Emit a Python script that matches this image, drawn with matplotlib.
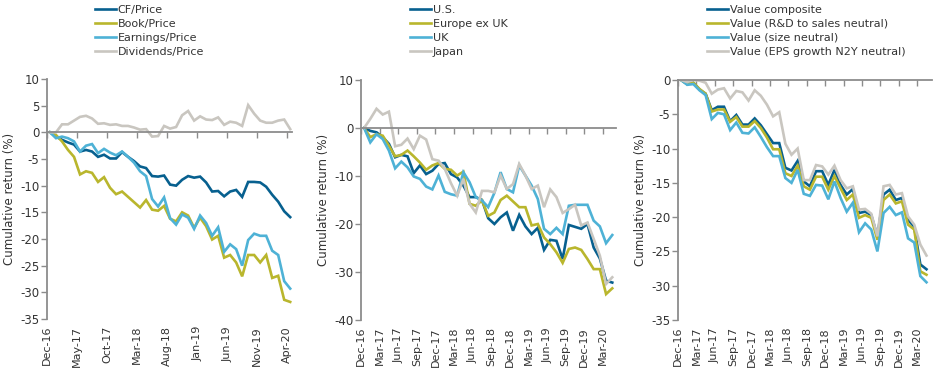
import numpy as np
import matplotlib
matplotlib.use("Agg")
import matplotlib.pyplot as plt

plt.rcParams['font.family'] = ['DejaVu Sans']
plt.rcParams['axes.unicode_minus'] = False

## Data (monthly, Dec-16 .. Apr-20)
cf_price = [0, -0.8, -1.4, -1.9, -2.3, -3.6, -3.3, -3.6, -4.6, -4.2, -4.9, -4.9, -3.7, -4.6,
            -5.4, -6.4, -6.7, -8.2, -8.3, -8.1, -9.8, -10.0, -8.9, -8.2, -8.5, -8.3, -9.4,
            -11.1, -11.0, -12.0, -11.1, -10.8, -12.1, -9.3, -9.3, -9.4, -10.2, -11.7, -13.0,
            -14.8, -15.9]
book_price = [0, -0.5, -1.7, -3.3, -4.6, -7.9, -7.3, -7.6, -9.3, -8.4, -10.4, -11.6, -11.1,
              -12.1, -13.1, -14.1, -12.7, -14.5, -14.7, -13.8, -16.2, -16.7, -15.0, -15.6,
              -17.9, -16.0, -17.6, -20.1, -19.4, -23.5, -23.0, -24.4, -27.0, -23.0, -23.0,
              -24.4, -23.0, -27.3, -26.9, -31.4, -31.8]
earn_price = [0, -1.1, -0.8, -1.1, -1.7, -3.6, -2.5, -2.2, -3.9, -3.1, -3.8, -4.3, -3.6, -4.6,
              -5.7, -7.3, -8.2, -12.5, -13.9, -12.2, -16.1, -17.3, -15.4, -16.0, -18.1, -15.6,
              -17.0, -19.4, -17.8, -22.4, -21.0, -21.9, -25.0, -20.2, -19.0, -19.4, -19.4,
              -22.2, -23.0, -27.9, -29.3]
div_price = [0, 0, 1.5, 1.5, 2.2, 2.9, 3.1, 2.6, 1.6, 1.7, 1.4, 1.5, 1.2, 1.2, 0.9, 0.5, 0.6,
             -0.8, -0.7, 1.2, 0.7, 1.0, 3.2, 4.0, 2.2, 3.0, 2.4, 2.3, 2.8, 1.4, 2.0, 1.8, 1.2,
             5.1, 3.5, 2.2, 1.8, 1.8, 2.2, 2.4, 0.6]

us = [0, -0.6, -0.9, -1.9, -3.3, -6.1, -5.6, -5.9, -9.4, -7.8, -9.6, -8.9, -7.5, -7.3, -9.6,
      -10.3, -12.0, -14.4, -14.4, -15.0, -18.8, -20.0, -18.6, -17.6, -21.4, -18.1, -20.5,
      -22.1, -20.8, -25.4, -23.3, -23.5, -27.3, -20.2, -20.6, -21.0, -20.0, -24.9, -27.2,
      -31.8, -32.2]
europe = [0, -1.9, -1.3, -1.6, -3.7, -5.9, -5.6, -4.7, -5.9, -7.2, -8.7, -7.8, -7.3, -8.5,
          -8.7, -9.9, -9.1, -15.8, -16.2, -15.1, -18.3, -17.6, -15.0, -14.1, -15.3, -16.5,
          -16.5, -20.3, -20.0, -22.8, -24.2, -25.9, -28.1, -25.2, -24.9, -25.4, -27.3, -29.4,
          -29.4, -34.6, -33.4]
uk = [0, -3.0, -1.3, -2.3, -4.7, -8.4, -7.0, -8.2, -10.1, -10.6, -12.2, -12.8, -9.9, -13.3,
      -13.8, -14.1, -9.2, -11.3, -14.4, -15.1, -16.5, -13.5, -9.2, -12.7, -13.4, -7.8, -9.9,
      -12.0, -14.8, -21.0, -22.1, -20.8, -22.1, -16.2, -16.0, -16.0, -16.0, -19.3, -20.5,
      -24.0, -22.3]
japan = [0, 1.9, 4.0, 2.8, 3.4, -3.8, -3.5, -2.2, -4.4, -1.6, -2.4, -6.5, -6.8, -8.5, -11.5,
         -14.1, -10.6, -15.8, -17.6, -13.1, -13.1, -13.4, -9.9, -12.7, -11.7, -7.5, -9.9,
         -12.7, -12.0, -16.5, -12.8, -14.4, -17.7, -16.9, -16.0, -20.3, -19.7, -23.1, -26.6,
         -32.5, -31.1]

val_comp = [0, -0.6, -0.4, -1.4, -2.0, -4.4, -3.9, -3.9, -6.0, -5.1, -6.5, -6.5, -5.6, -6.6,
            -7.9, -9.2, -9.2, -12.8, -13.2, -11.8, -14.8, -15.5, -13.3, -13.3, -15.3, -13.1,
            -15.3, -16.7, -15.9, -19.4, -19.2, -19.7, -22.8, -16.7, -16.0, -17.5, -17.2,
            -20.4, -21.4, -26.9, -27.6]
val_rd = [0, -0.6, -0.4, -1.3, -2.0, -4.6, -4.3, -4.3, -6.1, -5.4, -6.8, -6.8, -6.0, -7.0,
          -8.4, -10.1, -10.1, -13.6, -14.0, -12.5, -15.5, -16.0, -14.1, -14.1, -16.0, -14.0,
          -15.8, -17.5, -16.7, -20.1, -19.7, -20.1, -23.3, -17.5, -16.7, -18.0, -17.7, -21.1,
          -21.8, -27.9, -28.4]
val_size = [0, -0.7, -0.6, -1.5, -2.2, -5.7, -4.8, -5.0, -7.3, -6.2, -7.7, -7.8, -6.9, -8.3,
            -9.8, -11.1, -11.1, -14.3, -15.0, -13.1, -16.6, -16.9, -15.3, -15.4, -17.4, -14.8,
            -17.2, -19.2, -17.9, -22.2, -20.9, -21.8, -25.0, -19.4, -18.5, -19.7, -19.3,
            -23.1, -23.7, -28.6, -29.5]
val_eps = [0, -0.3, 0, -0.1, -0.4, -2.0, -1.4, -1.2, -2.7, -1.6, -1.8, -3.0, -1.5, -2.3,
           -3.6, -5.3, -4.7, -9.3, -10.9, -10.0, -14.6, -14.6, -12.4, -12.6, -13.8, -12.5,
           -14.6, -15.8, -15.5, -18.9, -18.8, -19.5, -22.8, -15.5, -15.3, -16.7, -16.5,
           -19.9, -21.1, -24.0, -25.6]

labels_5m = ["Dec-16", "May-17", "Oct-17", "Mar-18", "Aug-18", "Jan-19", "Jun-19",
             "Nov-19", "Apr-20"]
labels_3m = ["Dec-16", "Mar-17", "Jun-17", "Sep-17", "Dec-17", "Mar-18", "Jun-18",
             "Sep-18", "Dec-18", "Mar-19", "Jun-19", "Sep-19", "Dec-19", "Mar-20"]

cores = ["#07608F", "#B9B62D", "#4EB2D6", "#C9C6C0"]
txt = "#333333"
eixo = "#8C8C8C"


def painel(rect, series, nomes, ticks, tlabels, ylim, yticks, xmax, leg_xy):
    ax = fig.add_axes(rect)
    x = np.arange(len(series[0])) + 0.5
    for s, c, n in zip(series, cores, nomes):
        ax.plot(x, s, color=c, linewidth=1.9, label=n, solid_joinstyle="miter")
    ax.set_xlim(0, xmax)
    ax.set_ylim(*ylim)
    ax.set_yticks(yticks)
    ax.set_yticklabels([str(v) for v in yticks])
    for lado in ["top", "right"]:
        ax.spines[lado].set_visible(False)
    ax.spines["left"].set_color(eixo)
    ax.spines["left"].set_linewidth(1.3)
    ax.spines["bottom"].set_position(("data", 0))
    ax.spines["bottom"].set_color(eixo)
    ax.spines["bottom"].set_linewidth(1.3)
    ax.set_xticks(ticks)
    ax.tick_params(axis="x", direction="out", length=4, width=1, color=eixo,
                   labelbottom=False)
    ax.tick_params(axis="y", direction="out", length=4, width=1, color=eixo,
                   labelsize=8.5, labelcolor=txt, pad=1.5)
    sec = ax.secondary_xaxis(0.0)
    sec.set_xticks(ticks)
    sec.set_xticklabels(tlabels, rotation=90, fontsize=8, color=txt)
    sec.tick_params(length=0, pad=5)
    sec.spines["bottom"].set_visible(False)
    ax.set_ylabel("Cumulative return (%)", fontsize=8.5, color=txt, labelpad=3)
    ax.legend(loc="upper left", bbox_to_anchor=leg_xy, bbox_transform=fig.transFigure,
              frameon=False, fontsize=8, handlelength=1.9, handletextpad=0.15,
              labelspacing=0.35, borderpad=0, borderaxespad=0, labelcolor=txt)
    return ax


fig = plt.figure(figsize=(9.33, 3.68), dpi=100)

painel([47 / 933, 1 - 319 / 368, 245 / 933, 240 / 368],
       [cf_price, book_price, earn_price, div_price],
       ["CF/Price", "Book/Price", "Earnings/Price", "Dividends/Price"],
       list(range(0, 41, 5)), labels_5m, (-35, 10), list(range(-35, 11, 5)), 40.8,
       (95 / 933, 1 - 5 / 368))

painel([361 / 933, 1 - 320 / 368, 255 / 933, 240 / 368],
       [us, europe, uk, japan],
       ["U.S.", "Europe ex UK", "UK", "Japan"],
       list(range(0, 40, 3)), labels_3m, (-40, 10), list(range(-40, 11, 10)), 41.1,
       (410 / 933, 1 - 5 / 368))

painel([678 / 933, 1 - 320 / 368, 254 / 933, 240 / 368],
       [val_comp, val_rd, val_size, val_eps],
       ["Value composite", "Value (R&D to sales neutral)", "Value (size neutral)",
        "Value (EPS growth N2Y neutral)"],
       list(range(0, 40, 3)), labels_3m, (-35, 0), list(range(-35, 1, 5)), 41.4,
       (707 / 933, 1 - 5 / 368))

fig.savefig("out.png", dpi=100)
